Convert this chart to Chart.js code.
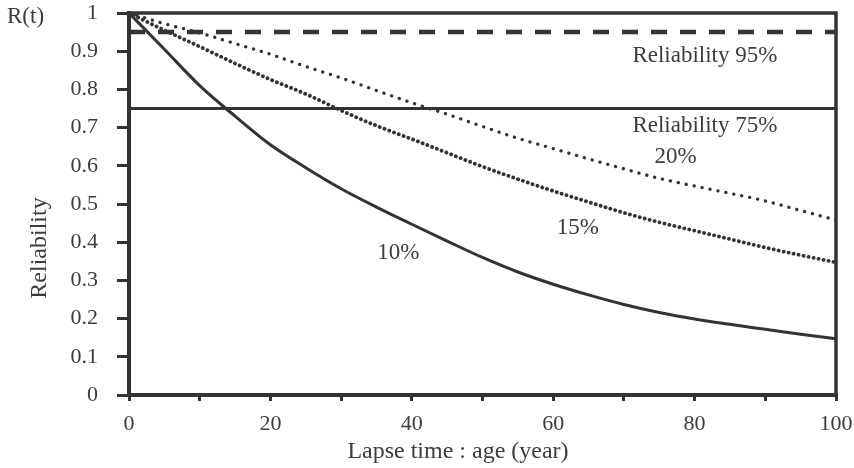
<!DOCTYPE html>
<html>
<head>
<meta charset="utf-8">
<script src="https://cdn.jsdelivr.net/npm/chart.js@4"></script>
<style>
  html, body { margin: 0; padding: 0; background: #fff; }
  canvas { display: block; }
</style>
</head>
<body>
<canvas id="relChart" width="854" height="468"></canvas>
<script>
// lapse time (year)
const years = [0, 5, 10, 15, 20, 25, 30, 35, 40, 45, 50, 55, 60, 65, 70, 75, 80, 85, 90, 95, 100];
// reliability R(t) for each set-up ratio
const r10 = [1, 0.905, 0.81, 0.73, 0.655, 0.595, 0.54, 0.492, 0.447, 0.403, 0.36, 0.322, 0.29, 0.262, 0.237, 0.216, 0.199, 0.185, 0.172, 0.159, 0.147];
const r15 = [1, 0.955, 0.912, 0.868, 0.826, 0.788, 0.745, 0.705, 0.67, 0.634, 0.598, 0.565, 0.534, 0.505, 0.477, 0.452, 0.43, 0.408, 0.386, 0.366, 0.347];
const r20 = [1, 0.972, 0.948, 0.92, 0.892, 0.86, 0.83, 0.797, 0.765, 0.735, 0.703, 0.672, 0.645, 0.618, 0.592, 0.567, 0.547, 0.528, 0.508, 0.483, 0.458];
// required reliability levels
const levels = [0.95, 0.75];
const xTicks = [0, 20, 40, 60, 80, 100];

const ink = "#333";
const textInk = "#3c3c3c";
const serif = "'Liberation Serif', 'DejaVu Serif', serif";

const pts = arr => years.map((y, i) => ({x: y, y: arr[i]}));
const flat = v => [{x: 0, y: v}, {x: 100, y: v}];

const labels = [
  {text: "Reliability 95%", x: 71.2, y: 0.888, align: "left"},
  {text: "Reliability 75%", x: 71.2, y: 0.705, align: "left"},
  {text: "20%", x: 77.3, y: 0.624, align: "center"},
  {text: "15%", x: 63.5, y: 0.436, align: "center"},
  {text: "10%", x: 38.1, y: 0.373, align: "center"}
];

const decor = {
  id: "decor",
  afterDatasetsDraw(chart) {
    const {ctx, chartArea: a, scales} = chart;
    ctx.save();
    ctx.strokeStyle = ink;
    ctx.lineWidth = 3.5;
    ctx.strokeRect(a.left, a.top, a.right - a.left, a.bottom - a.top);

    ctx.fillStyle = textInk;
    ctx.font = "23px " + serif;
    ctx.textBaseline = "middle";
    labels.forEach(l => {
      ctx.textAlign = l.align;
      ctx.fillText(l.text, scales.x.getPixelForValue(l.x), scales.y.getPixelForValue(l.y));
    });

    ctx.textAlign = "left";
    ctx.fillText("R(t)", 7, 17);

    ctx.font = "24px " + serif;
    ctx.textAlign = "center";
    ctx.fillText("Lapse time : age (year)", 458, 452);

    ctx.translate(40, 248);
    ctx.rotate(-Math.PI / 2);
    ctx.fillText("Reliability", 0, 0);
    ctx.restore();
  }
};

new Chart(document.getElementById("relChart"), {
  type: "line",
  data: {
    datasets: [
      {data: pts(r10), borderColor: ink, borderWidth: 3, cubicInterpolationMode: "monotone"},
      {data: pts(r15), borderColor: ink, borderWidth: 3.8, borderDash: [0.1, 5], borderCapStyle: "round", cubicInterpolationMode: "monotone"},
      {data: pts(r20), borderColor: ink, borderWidth: 3.3, borderDash: [0.1, 8], borderCapStyle: "round", cubicInterpolationMode: "monotone"},
      {data: flat(levels[0]), borderColor: ink, borderWidth: 4.5, borderDash: [16, 13]},
      {data: flat(levels[1]), borderColor: ink, borderWidth: 2.8}
    ]
  },
  options: {
    responsive: false,
    animation: false,
    devicePixelRatio: 1,
    layout: {padding: {top: 13, right: 18, left: 0, bottom: 0}},
    elements: {point: {radius: 0}},
    plugins: {legend: {display: false}, tooltip: {enabled: false}},
    scales: {
      x: {
        type: "linear", min: 0, max: 100,
        afterFit: s => { s.height = 73; s.paddingLeft = 0; s.paddingRight = 0; },
        ticks: {
          stepSize: 10, autoSkip: false, maxRotation: 0, padding: 10,
          color: textInk, font: {family: serif, size: 22},
          callback: v => xTicks.includes(v) ? String(v) : ""
        },
        grid: {drawOnChartArea: false, drawTicks: true, tickLength: 6, lineWidth: 3, color: ink},
        border: {display: true, width: 4, color: ink}
      },
      y: {
        min: 0, max: 1,
        afterFit: s => { s.width = 129; s.paddingTop = 0; s.paddingBottom = 0; },
        ticks: {
          stepSize: 0.1, padding: 19,
          color: textInk, font: {family: serif, size: 22},
          callback: v => (v === 0 || v === 1) ? String(v) : v.toFixed(1)
        },
        grid: {drawOnChartArea: false, drawTicks: true, tickLength: 12, lineWidth: 3, color: ink},
        border: {display: true, width: 4, color: ink}
      }
    }
  },
  plugins: [decor]
});
</script>
</body>
</html>
